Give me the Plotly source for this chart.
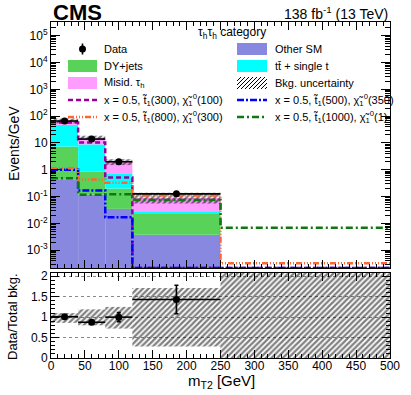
import numpy as np
import plotly.graph_objects as go

# binning of m_T2 in GeV
bin_edges = [0, 40, 80, 120, 250, 500]

# stacked backgrounds, events/GeV
other_sm = [0.42, 0.12, 0.035, 0.0038, 0]
dy_jets = [6.9, 0.73, 0.165, 0.020, 0]
ttbar_t = [40, 8.05, 0.54, 0.003, 0]
misid_tau = [18, 7.1, 1.26, 0.062, 0]

# observed data
data = [66, 14, 2.0, 0.127, 0]
data_err = [1.3, 0.6, 0.22, 0.031, 0]

# background uncertainty band (main panel and ratio panel)
bkg_unc_lo = [54, 13.3, 1.5, 0.056, None]
bkg_unc_hi = [82, 18.7, 2.5, 0.14, None]
ratio_unc_lo = [0.86, 0.80, 0.72, 0.28, 0]
ratio_unc_hi = [1.10, 1.19, 1.25, 1.71, 2.1]

# signal benchmarks
sig_300_100 = [58, 10.5, 0.52, 0, 0]
sig_500_350 = [1.0, 0.17, 0.017, 0, 0]
sig_800_300 = [1.15, 0.44, 0.33, 0.11, 0.00033]
sig_1000_1 = [0.48, 0.118, 0.122, 0.075, 0.0069]

FONT = 'Liberation Sans, Arial, Helvetica, sans-serif'
Y_LOG_RANGE = [-3.66, 5.51]
HATCH = dict(shape='/', fgcolor='#000000', bgcolor='rgba(0,0,0,0)', size=4, solidity=0.55, fillmode='overlay')

edges = np.array(bin_edges, dtype=float)
centers = 0.5 * (edges[1:] + edges[:-1])
widths = edges[1:] - edges[:-1]

fig = go.Figure()

# ---- stacked backgrounds ----
stack = [(other_sm, '#8888e0', 'Other SM'),
         (dy_jets, '#58d258', 'DY+jets'),
         (ttbar_t, '#00ffff', 'tt + single t'),
         (misid_tau, '#ff9cff', 'Misid. tau_h')]
base = np.zeros(len(centers))
for vals, color, name in stack:
    vals = np.array(vals, dtype=float)
    fig.add_trace(go.Bar(x=centers, y=vals, base=base.copy(), width=widths,
                         marker=dict(color=color, line=dict(width=0)),
                         name=name, showlegend=False, xaxis='x', yaxis='y'))
    base = base + vals
total_bkg = base

# ---- uncertainty band ----
lo = np.array([np.nan if v is None else v for v in bkg_unc_lo])
hi = np.array([np.nan if v is None else v for v in bkg_unc_hi])
fig.add_trace(go.Bar(x=centers, y=hi - lo, base=lo, width=widths,
                     marker=dict(color='rgba(0,0,0,0)', line=dict(width=0), pattern=HATCH),
                     showlegend=False, xaxis='x', yaxis='y'))

# ---- signals as step lines ----
y_floor = 10 ** Y_LOG_RANGE[0]
signals = [(sig_300_100, '#990099', '5px,3px'),
           (sig_500_350, '#0000ff', '7px,2px,2px,2px'),
           (sig_800_300, '#ff6633', '6px,2px,1px,2px,1px,2px,1px,2px'),
           (sig_1000_1, '#117711', '7px,3px,2px,3px')]
for vals, color, dash in signals:
    v = np.maximum(np.array(vals, dtype=float), y_floor)
    fig.add_trace(go.Scatter(x=edges, y=np.append(v, v[-1]), mode='lines', line_shape='hv',
                             line=dict(color=color, width=2.5, dash=dash),
                             showlegend=False, xaxis='x', yaxis='y'))

# ---- data ----
d = np.array(data, dtype=float)
de = np.array(data_err, dtype=float)
has = d > 0
fig.add_trace(go.Scatter(x=centers[has], y=d[has], mode='markers',
                         marker=dict(color='black', size=7),
                         error_y=dict(type='data', array=de[has], color='black', thickness=1.6, width=0),
                         error_x=dict(type='data', array=widths[has] / 2, color='black', thickness=1.6, width=0),
                         showlegend=False, xaxis='x', yaxis='y'))

# ---- ratio panel ----
rlo = np.array(ratio_unc_lo, dtype=float)
rhi = np.array(ratio_unc_hi, dtype=float)
fig.add_trace(go.Bar(x=centers, y=rhi - rlo, base=rlo, width=widths,
                     marker=dict(color='rgba(0,0,0,0)', line=dict(width=0), pattern=HATCH),
                     showlegend=False, xaxis='x2', yaxis='y2'))
ok = has & (total_bkg > 0)
fig.add_trace(go.Scatter(x=centers[ok], y=d[ok] / total_bkg[ok], mode='markers',
                         marker=dict(color='black', size=7),
                         error_y=dict(type='data', array=de[ok] / total_bkg[ok], color='black', thickness=1.6, width=2),
                         error_x=dict(type='data', array=widths[ok] / 2, color='black', thickness=1.6, width=0),
                         showlegend=False, xaxis='x2', yaxis='y2'))


# ---- helpers: canvas pixels -> paper fractions (plot area is x 51..390, y 22..358) ----
def px(x):
    return (x - 51) / 339


def py(y):
    return (358 - y) / 336


# ---- legend drawn by hand with shapes and annotations ----
leg_rows = [49, 66, 83, 100, 117]
lx0, lx1, ltx = 68, 97, 102
rx0, rx1, rtx = 237, 267, 273
shapes = []
annos = []


def leg_box(x0, x1, yc, color):
    shapes.append(dict(type='rect', xref='paper', yref='paper', x0=px(x0), x1=px(x1),
                       y0=py(yc + 6), y1=py(yc - 6), fillcolor=color, line=dict(width=0), layer='above'))


def leg_hatch(x0, x1, yc, step=4):
    yb, yt = yc + 6, yc - 6
    h = yb - yt
    a = x0 - h
    while a < x1:
        sx, sy, ex, ey = a, yb, a + h, yt
        if sx < x0:
            sy -= x0 - sx
            sx = x0
        if ex > x1:
            ey += ex - x1
            ex = x1
        shapes.append(dict(type='line', xref='paper', yref='paper', x0=px(sx), y0=py(sy),
                           x1=px(ex), y1=py(ey), line=dict(color='black', width=1), layer='above'))
        a += step


def leg_line(x0, x1, yc, color, dash):
    shapes.append(dict(type='line', xref='paper', yref='paper', x0=px(x0), x1=px(x1),
                       y0=py(yc), y1=py(yc), line=dict(color=color, width=2.5, dash=dash), layer='above'))


def leg_text(x, yc, text):
    annos.append(dict(x=px(x), y=py(yc), xref='paper', yref='paper', text=text, showarrow=False,
                      xanchor='left', yanchor='middle', font=dict(size=11, family=FONT, color='black')))


# data entry: marker with a vertical error bar
dx = (lx0 + lx1) / 2
shapes.append(dict(type='line', xref='paper', yref='paper', x0=px(dx), x1=px(dx),
                   y0=py(leg_rows[0] + 5.5), y1=py(leg_rows[0] - 5.5),
                   line=dict(color='black', width=1.6), layer='above'))
shapes.append(dict(type='circle', xref='paper', yref='paper', x0=px(dx - 3.5), x1=px(dx + 3.5),
                   y0=py(leg_rows[0] + 3.5), y1=py(leg_rows[0] - 3.5),
                   fillcolor='black', line=dict(width=0), layer='above'))
leg_text(ltx, leg_rows[0], 'Data')
leg_box(lx0, lx1, leg_rows[1], stack[1][1])
leg_text(ltx, leg_rows[1], 'DY+jets')
leg_box(lx0, lx1, leg_rows[2], stack[3][1])
leg_text(ltx, leg_rows[2], 'Misid. τ<sub>h</sub>')
leg_line(lx0, lx1, leg_rows[3], signals[0][1], signals[0][2])
leg_text(ltx, leg_rows[3], 'x = 0.5, t\u0303<sub>1</sub>(300), χ\u0303<sub>1</sub><sup>0</sup>(100)')
leg_line(lx0, lx1, leg_rows[4], signals[2][1], signals[2][2])
leg_text(ltx, leg_rows[4], 'x = 0.5, t\u0303<sub>1</sub>(800), χ\u0303<sub>1</sub><sup>0</sup>(300)')

leg_box(rx0, rx1, leg_rows[0], stack[0][1])
leg_text(rtx, leg_rows[0], 'Other SM')
leg_box(rx0, rx1, leg_rows[1], stack[2][1])
leg_text(rtx, leg_rows[1], 'tt\u0304 + single t')
leg_hatch(rx0, rx1, leg_rows[2])
leg_text(rtx, leg_rows[2], 'Bkg. uncertainty')
leg_line(rx0, rx1, leg_rows[3], signals[1][1], signals[1][2])
leg_text(rtx, leg_rows[3], 'x = 0.5, t\u0303<sub>1</sub>(500), χ\u0303<sub>1</sub><sup>0</sup>(350)')
leg_line(rx0, rx1, leg_rows[4], signals[3][1], signals[3][2])
leg_text(rtx, leg_rows[4], 'x = 0.5, t\u0303<sub>1</sub>(1000), χ\u0303<sub>1</sub><sup>0</sup>(1)')

annos.append(dict(x=px(232), y=py(33), xref='paper', yref='paper', text='τ<sub>h</sub>τ<sub>h</sub> category',
                  showarrow=False, xanchor='center', yanchor='middle',
                  font=dict(size=12, family=FONT, color='black')))

# ---- titles ----
annos += [
    dict(x=px(51), y=py(12.5), xref='paper', yref='paper', text='<b>CMS</b>', showarrow=False,
         xanchor='left', yanchor='middle', font=dict(size=22, family=FONT, color='black')),
    dict(x=px(390), y=py(13), xref='paper', yref='paper', text='138 fb<sup>-1</sup> (13 TeV)',
         showarrow=False, xanchor='right', yanchor='middle', font=dict(size=14, family=FONT, color='black')),
    dict(x=px(14), y=py(144), xref='paper', yref='paper', text='Events/GeV', textangle=-90,
         showarrow=False, xanchor='center', yanchor='middle', font=dict(size=14, family=FONT, color='black')),
    dict(x=px(12), y=py(317), xref='paper', yref='paper', text='Data/Total bkg.', textangle=-90,
         showarrow=False, xanchor='center', yanchor='middle', font=dict(size=13, family=FONT, color='black')),
    dict(x=px(221), y=py(381), xref='paper', yref='paper', text='m<sub>T2</sub> [GeV]',
         showarrow=False, xanchor='center', yanchor='middle', font=dict(size=15, family=FONT, color='black')),
]

log_ticks = [1e-3, 1e-2, 1e-1, 1, 10, 1e2, 1e3, 1e4, 1e5]
log_text = ['10<sup>-3</sup>', '10<sup>-2</sup>', '10<sup>-1</sup>', '1', '10',
            '10<sup>2</sup>', '10<sup>3</sup>', '10<sup>4</sup>', '10<sup>5</sup>']
log_minor = [m * 10.0 ** k for k in range(-4, 6) for m in range(2, 10)]

frame = dict(showline=True, linecolor='black', linewidth=1, mirror='ticks', ticks='inside',
             tickcolor='black', zeroline=False, showgrid=False,
             tickfont=dict(size=12, family=FONT, color='black'))

fig.update_layout(
    width=411, height=395, autosize=False,
    margin=dict(l=51, r=21, t=22, b=37),
    paper_bgcolor='white', plot_bgcolor='rgba(0,0,0,0)',
    barmode='overlay', showlegend=False,
    font=dict(family=FONT, color='black'),
    annotations=annos, shapes=shapes,
    xaxis=dict(frame, domain=[0, 1], anchor='y', range=[0, 500], showticklabels=False,
               tickvals=list(range(0, 501, 50)), ticklen=8,
               minor=dict(ticks='inside', ticklen=4, dtick=10, tick0=0, tickcolor='black')),
    yaxis=dict(frame, domain=[py(268), 1], anchor='x', type='log', range=Y_LOG_RANGE,
               tickvals=log_ticks, ticktext=log_text, ticklen=9,
               minor=dict(ticks='inside', ticklen=5, tickvals=log_minor, tickcolor='black')),
    xaxis2=dict(frame, domain=[0, 1], anchor='y2', range=[0, 500], matches='x',
                tickvals=list(range(0, 501, 50)), ticklen=8, ticklabelstandoff=-3,
                minor=dict(ticks='inside', ticklen=4, dtick=10, tick0=0, tickcolor='black')),
    yaxis2=dict(frame, domain=[0, py(273)], anchor='x2', range=[0, 2.08],
                tickvals=[0, 0.5, 1, 1.5, 2], ticktext=['0', '0.5', '1', '1.5', '2'], ticklen=8,
                showgrid=True, gridcolor='#888888', griddash='dot', gridwidth=1,
                minor=dict(ticks='inside', ticklen=4, dtick=0.1, tick0=0, tickcolor='black')),
)

# drop the default 8px body margin so the figure sits at the window's corner
fig.write_html("out.html", config={'displayModeBar': False},
               post_script="document.body.style.margin='0px';")
